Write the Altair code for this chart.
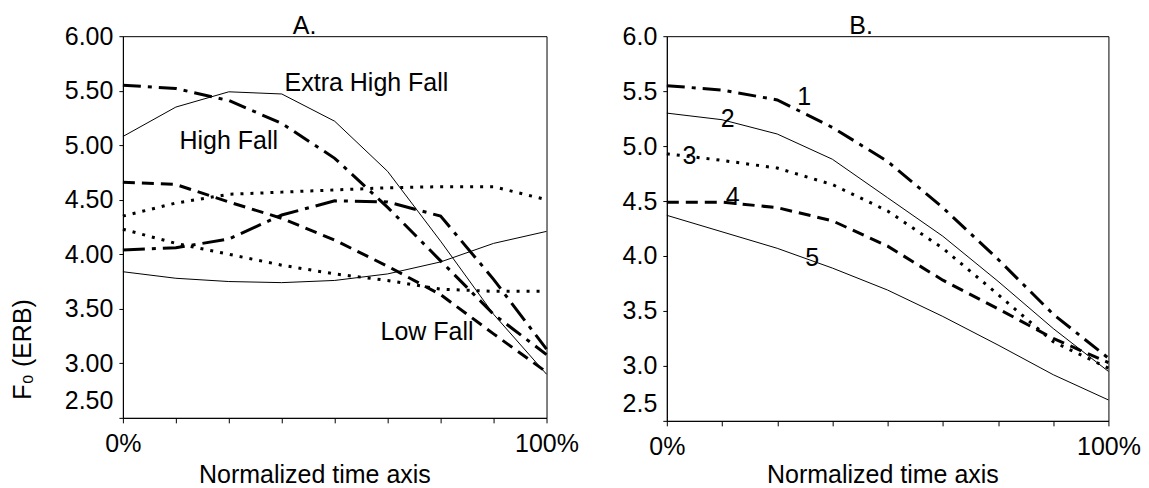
import altair as alt
import pandas as pd

# ---------------- data ----------------
T = [0, 12.5, 25, 37.5, 50, 62.5, 75, 87.5, 100]

# Panel A
A_EXTRA_HIGH_FALL = [5.08, 5.35, 5.49, 5.47, 5.22, 4.76, 4.12, 3.45, 2.90]
A_HIGH_FALL = [5.55, 5.52, 5.41, 5.20, 4.88, 4.43, 3.94, 3.45, 3.08]
A_LOW_FALL = [4.66, 4.64, 4.48, 4.33, 4.13, 3.89, 3.63, 3.27, 2.92]
A_RISE_FALL = [4.04, 4.06, 4.14, 4.36, 4.49, 4.48, 4.35, 3.77, 3.13]
A_DOT_UPPER = [4.35, 4.47, 4.55, 4.57, 4.59, 4.61, 4.62, 4.62, 4.50]
A_DOT_LOWER = [4.23, 4.10, 4.00, 3.90, 3.82, 3.76, 3.68, 3.66, 3.66]
A_RISE = [3.84, 3.78, 3.75, 3.74, 3.76, 3.82, 3.93, 4.10, 4.21]

# Panel B
B_1 = [5.55, 5.51, 5.42, 5.17, 4.86, 4.44, 3.97, 3.47, 3.07]
B_2 = [5.30, 5.24, 5.11, 4.88, 4.53, 4.18, 3.77, 3.34, 2.95]
B_3 = [4.93, 4.87, 4.80, 4.65, 4.41, 4.07, 3.65, 3.22, 2.98]
B_4 = [4.49, 4.49, 4.44, 4.32, 4.09, 3.78, 3.52, 3.25, 3.03]
B_5 = [4.37, 4.22, 4.07, 3.89, 3.69, 3.45, 3.19, 2.92, 2.69]

# Annotations
A_LABELS = ["Extra High Fall", "High Fall", "Low Fall"]
A_LABEL_T = [57.5, 25.0, 71.8]
A_LABEL_F0 = [5.57, 5.035, 3.29]
B_LABELS = ["1", "2", "3", "4", "5"]
B_LABEL_T = [31.1, 13.8, 5.1, 14.9, 32.9]
B_LABEL_F0 = [5.45, 5.25, 4.91, 4.54, 3.98]
PANEL_TITLES = ["A.", "B."]
PANEL_TITLE_T = [42.9, 44.0]

Y_TICKS = [2.5, 3.0, 3.5, 4.0, 4.5, 5.0, 5.5, 6.0]
FONT = "Liberation Sans"
FS = 25


def long_df(series):
    rows = []
    for name, style, vals in series:
        for t, v in zip(T, vals):
            rows.append({"t": t, "f0": v, "series": name, "style": style})
    return pd.DataFrame(rows)


dfA = long_df([
    ("Extra High Fall", "thin", A_EXTRA_HIGH_FALL),
    ("High Fall", "dashdot", A_HIGH_FALL),
    ("Low Fall", "dashed", A_LOW_FALL),
    ("Rise Fall", "dashdot2", A_RISE_FALL),
    ("Dot upper", "dotted", A_DOT_UPPER),
    ("Dot lower", "dotted", A_DOT_LOWER),
    ("Rise", "thin", A_RISE),
])
dfB = long_df([
    ("1", "dashdot", B_1),
    ("2", "thin", B_2),
    ("3", "dotted", B_3),
    ("4", "dashed", B_4),
    ("5", "thin", B_5),
])

STYLES = {
    "thin": dict(strokeWidth=1),
    "dashdot": dict(strokeWidth=3, strokeDash=[18, 7, 4, 7]),
    "dashdot2": dict(strokeWidth=3, strokeDash=[22, 7, 4, 7]),
    "dashed": dict(strokeWidth=3, strokeDash=[12, 7]),
    "dotted": dict(strokeWidth=3, strokeDash=[3, 7]),
}


def x_axis(title_x, title_y):
    return alt.Axis(
        values=T,
        labelExpr="datum.value == 0 ? '0%' : (datum.value == 100 ? '100%' : '')",
        tickSize=5, tickColor="black", domainColor="black", grid=False,
        labelFont=FONT, labelFontSize=FS, labelColor="black", labelPadding=9,
        labelFlush=False, labelOverlap=False,
        title="Normalized time axis", titleFont=FONT, titleFontSize=FS,
        titleFontWeight="normal", titleColor="black",
        titleX=title_x, titleY=title_y, titleAlign="center",
        titleBaseline="alphabetic",
    )


def y_axis(fmt, title=None):
    kw = dict(
        values=Y_TICKS, format=fmt, tickSize=4, tickColor="black",
        domainColor="black", grid=False, labelFont=FONT, labelFontSize=FS,
        labelColor="black", labelPadding=6, labelFlush=False, labelOverlap=False,
        labelOffset={"condition": {"test": "datum.value == 2.5", "value": -17}, "value": 0},
    )
    if title:
        kw.update(title=title, titleFont=FONT, titleFontSize=FS,
                  titleFontWeight="normal", titleColor="black",
                  titleX=-100, titleY=313, titleAngle=270,
                  titleAlign="center", titleBaseline="middle")
    else:
        kw.update(title=None)
    return alt.Axis(**kw)


def panel(df, width, height, fmt, ytitle, title_x, title_y, labels, lab_t, lab_f,
          ptitle, ptitle_t):
    xs = alt.Scale(domain=[0, 100], nice=False, zero=False)
    ys = alt.Scale(domain=[2.5, 6.0], nice=False, zero=False)
    xa = x_axis(title_x, title_y)
    ya = y_axis(fmt, ytitle)
    X = lambda: alt.X("t:Q", scale=xs, axis=xa)
    Y = lambda: alt.Y("f0:Q", scale=ys, axis=ya)
    base = alt.Chart(df)
    layers = []
    for style, props in STYLES.items():
        sub = df[df["style"] == style]
        if sub.empty:
            continue
        layers.append(
            base.transform_filter(alt.datum.style == style)
            .mark_line(color="black", strokeCap="butt", **props)
            .encode(x=X(), y=Y(), detail="series:N")
        )
    lab_df = pd.DataFrame({"t": lab_t, "f0": lab_f, "label": labels})
    layers.append(
        alt.Chart(lab_df).mark_text(font=FONT, fontSize=FS, color="black",
                                    align="center", baseline="middle")
        .encode(x=X(), y=Y(), text="label:N")
    )
    ttl_df = pd.DataFrame({"t": [ptitle_t], "f0": [6.0], "label": [ptitle]})
    layers.append(
        alt.Chart(ttl_df).mark_text(font=FONT, fontSize=FS, color="black",
                                    align="center", baseline="alphabetic", dy=-2)
        .encode(x=X(), y=Y(), text="label:N")
    )
    return alt.layer(*layers).properties(width=width, height=height)


chartA = panel(dfA, 424, 382, ".2f", "F\u2080 (ERB)", 191.7, 64.5,
               A_LABELS, A_LABEL_T, A_LABEL_F0, PANEL_TITLES[0], PANEL_TITLE_T[0])
chartB = panel(dfB, 442, 385, ".1f", None, 215.8, 62,
               B_LABELS, B_LABEL_T, B_LABEL_F0, PANEL_TITLES[1], PANEL_TITLE_T[1])

chart = (
    alt.hconcat(chartA, chartB, spacing=120.4, bounds="flush")
    .properties(padding={"left": 2, "top": 5, "right": 0, "bottom": 0},
                background="white")
    .configure_view(stroke="black", strokeWidth=1)
)

chart.save("out.html", embed_options={"renderer": "svg", "actions": False})
